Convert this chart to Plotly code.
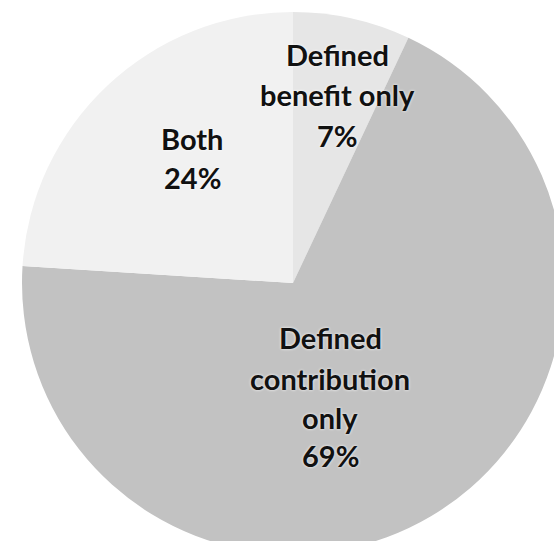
import plotly.graph_objects as go

labels = ["Defined benefit only", "Defined contribution only", "Both"]
values = [7, 69, 24]
colors = ["#e6e6e6", "#c2c2c2", "#f1f1f1"]

label_lines = [
    ["Defined", "benefit only", "7%"],
    ["Defined", "contribution", "only", "69%"],
    ["Both", "24%"],
]

W, H = 580, 570
cx, cy, r = 293, 283, 271

fig = go.Figure(go.Pie(
    labels=labels, values=values, sort=False, direction="clockwise", rotation=0,
    marker=dict(colors=colors, line=dict(width=0)),
    textinfo="none", hoverinfo="label+percent", showlegend=False,
    domain=dict(x=[(cx - r) / W, (cx + r) / W], y=[(H - cy - r) / H, (H - cy + r) / H]),
))

# label line anchor positions (pixels from top-left)
label_pos = [
    [(337, 55), (337, 95), (337, 136)],
    [(330, 337), (330, 378), (330, 417), (330, 455)],
    [(192, 138), (192, 177)],
]
for lines, poss in zip(label_lines, label_pos):
    for t, (px, py) in zip(lines, poss):
        fig.add_annotation(
            x=px / W, y=1 - py / H, xref="paper", yref="paper",
            text=t, showarrow=False, xanchor="center", yanchor="middle",
            font=dict(family="Lato", size=29, color="#111111", weight="bold",
                      shadow="0 0 3px white"),
        )

fig.update_layout(
    width=W, height=H, margin=dict(l=0, r=0, t=0, b=0),
    paper_bgcolor="white", plot_bgcolor="white",
)

fig.write_html("out.html",
               post_script="document.documentElement.style.overflow='hidden';document.body.style.overflow='hidden';document.body.style.margin='0';")
